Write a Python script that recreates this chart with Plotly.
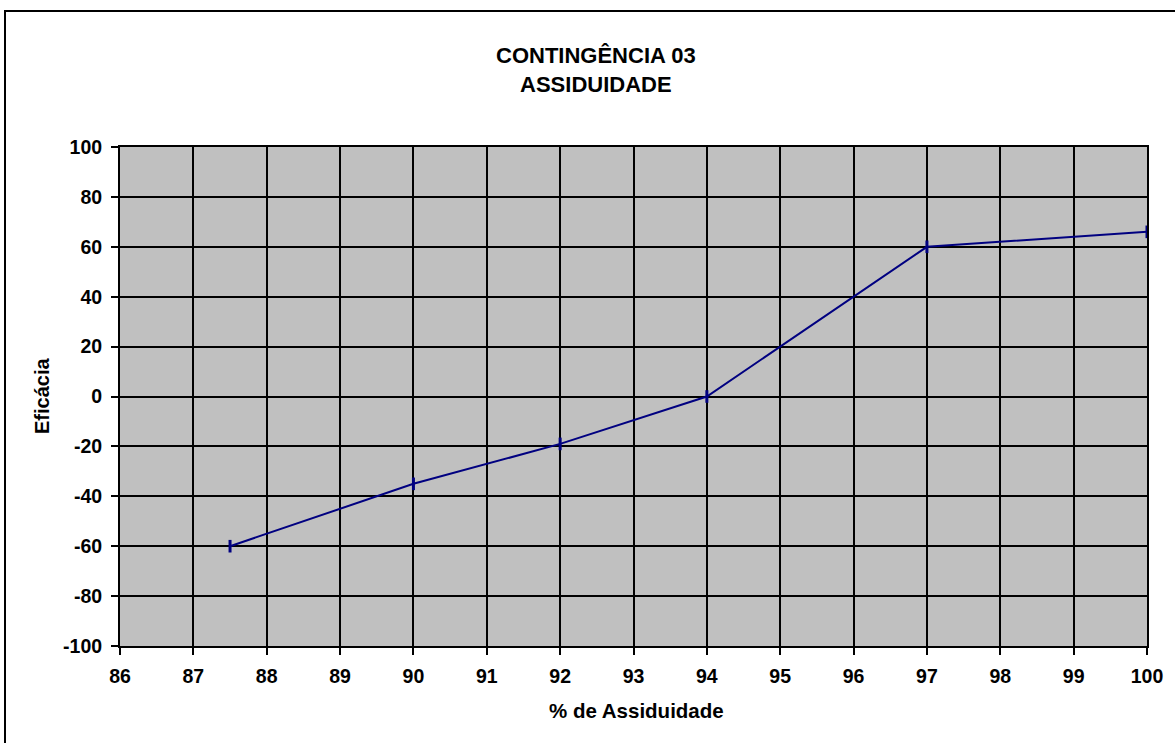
import plotly.graph_objects as go

# Attendance (%) vs. effectiveness
assiduidade = [87.5, 90, 92, 94, 97, 100]
eficacia = [-60, -35, -19, 0, 60, 66]

x_ticks = list(range(86, 101))
y_ticks = list(range(-100, 101, 20))
y_labels = [str(v) for v in y_ticks]  # plain hyphen for negatives

W, H = 1175, 743
ML, MR, MT, MB = 120, 28, 147, 97
PW, PH = W - ML - MR, H - MT - MB


def px_x(p):
    return (p - ML) / PW


def px_y(p):
    return (H - MB - p) / PH


FONT = "Liberation Sans, Arial, sans-serif"

fig = go.Figure()
fig.add_trace(go.Scatter(
    x=assiduidade, y=eficacia, mode="lines+markers",
    line=dict(color="#000080", width=2),
    marker=dict(symbol="line-ns-open", size=9, color="#000080",
                line=dict(color="#000080", width=3)),
    showlegend=False, cliponaxis=False,
))

axis_common = dict(
    showline=True, linecolor="black", linewidth=2, mirror=True,
    showgrid=True, gridcolor="black", gridwidth=2,
    ticks="outside", ticklen=7, tickwidth=2, tickcolor="black",
    zeroline=False,
    tickfont=dict(family=FONT, size=19.5, color="black", weight="bold"),
)

fig.update_xaxes(range=[86, 100], tickvals=x_ticks, ticklabelstandoff=5, **axis_common)
fig.update_yaxes(range=[-100, 100], tickvals=y_ticks, ticktext=y_labels,
                 ticklabelstandoff=5, **axis_common)

fig.update_layout(
    width=W, height=H,
    margin=dict(l=ML, r=MR, t=MT, b=MB),
    paper_bgcolor="white", plot_bgcolor="#C0C0C0",
    shapes=[dict(type="rect", xref="paper", yref="paper",
                 x0=px_x(5), x1=px_x(1195), y0=px_y(770), y1=px_y(11),
                 line=dict(color="black", width=2), fillcolor="rgba(0,0,0,0)",
                 layer="below")],
    annotations=[
        dict(text="CONTINGÊNCIA 03<br>ASSIDUIDADE", x=px_x(596), y=px_y(70),
             xref="paper", yref="paper", showarrow=False,
             xanchor="center", yanchor="middle",
             font=dict(family=FONT, size=22, color="black", weight="bold")),
        dict(text="% de Assiduidade", x=px_x(636), y=px_y(710),
             xref="paper", yref="paper", showarrow=False,
             xanchor="center", yanchor="middle",
             font=dict(family=FONT, size=20.5, color="black", weight="bold")),
        dict(text="Eficácia", x=px_x(42), y=px_y(396), textangle=-90,
             xref="paper", yref="paper", showarrow=False,
             xanchor="center", yanchor="middle",
             font=dict(family=FONT, size=20, color="black", weight="bold")),
    ],
)

fig.write_html("out.html")
